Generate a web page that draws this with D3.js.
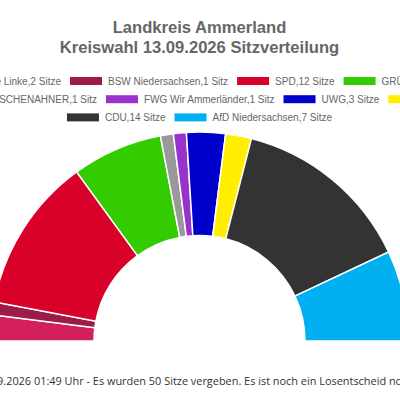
<!DOCTYPE html>
<html>
<head>
<meta charset="utf-8">
<script src="https://cdn.jsdelivr.net/npm/d3@7"></script>
<style>
  html, body { margin: 0; padding: 0; background: #fff; overflow: hidden; }
  svg { display: block; }
</style>
</head>
<body>
<div id="chart"></div>
<script>
// Data
const parties = ["Die Linke", "BSW Niedersachsen", "SPD", "GRÜNE", "WIR ZWISCHENAHNER", "FWG Wir Ammerländer", "UWG", "FDP", "CDU", "AfD Niedersachsen"];
const seats = [2, 1, 12, 7, 1, 1, 3, 2, 14, 7];
const colors = ["#d31f5c", "#9b1c47", "#d9002a", "#33cc00", "#999999", "#9932cc", "#0000cc", "#ffee00", "#333333", "#00b0f0"];
const legendRows = [[0, 1, 2, 3], [4, 5, 6, 7], [8, 9]];
const titleLines = ["Landkreis Ammerland", "Kreiswahl 13.09.2026 Sitzverteilung"];
const footerText = "Stand: 13.09.2026 01:49 Uhr - Es wurden 50 Sitze vergeben. Es ist noch ein Losentscheid notwendig.";

const width = 400, height = 400;
const cx = 199.5, cy = 341;
const innerR = 105.5, outerR = 209;

const svg = d3.select("#chart").append("svg")
  .attr("width", width)
  .attr("height", height);

// Title
svg.append("g").selectAll("text")
  .data(titleLines)
  .join("text")
  .attr("x", cx)
  .attr("y", (d, i) => 33 + i * 20)
  .attr("text-anchor", "middle")
  .attr("font-family", "Liberation Sans")
  .attr("font-size", 16.6)
  .attr("font-weight", "bold")
  .attr("fill", "#666")
  .text(d => d);

// Half doughnut
const pie = d3.pie().sort(null).startAngle(-Math.PI / 2).endAngle(Math.PI / 2);
const arc = d3.arc().innerRadius(innerR).outerRadius(outerR);

svg.append("g")
  .attr("transform", `translate(${cx},${cy})`)
  .selectAll("path")
  .data(pie(seats))
  .join("path")
  .attr("d", arc)
  .attr("fill", (d, i) => colors[i])
  .attr("stroke", "#fff")
  .attr("stroke-width", 1.5);

// Legend, rows are centred like the original
const label = i => `${parties[i]},${seats[i]} ${seats[i] === 1 ? "Sitz" : "Sitze"}`;
const boxW = 32, boxH = 8, boxGap = 6, itemGap = 9;
const legend = svg.append("g");

legendRows.forEach((row, r) => {
  const y = 81 + r * 18.2;
  const items = row.map(i => {
    const t = legend.append("text")
      .attr("y", y)
      .attr("dy", "0.35em")
      .attr("font-family", "Liberation Sans")
      .attr("font-size", 10)
      .attr("fill", "#666")
      .text(label(i));
    return { i, t, w: t.node().getComputedTextLength() };
  });
  const total = d3.sum(items, d => boxW + boxGap + d.w) + itemGap * (items.length - 1);
  let x = cx - total / 2;
  items.forEach(d => {
    legend.append("rect")
      .attr("x", x)
      .attr("y", y - boxH / 2)
      .attr("width", boxW)
      .attr("height", boxH)
      .attr("fill", colors[d.i]);
    d.t.attr("x", x + boxW + boxGap);
    x += boxW + boxGap + d.w + itemGap;
  });
});

// Footer, wider than the window so it runs off both sides
svg.append("text")
  .attr("x", 193)
  .attr("y", 385)
  .attr("text-anchor", "middle")
  .attr("font-family", "Open Sans")
  .attr("font-size", 10.92)
  .attr("fill", "#333")
  .text(footerText);
</script>
</body>
</html>
